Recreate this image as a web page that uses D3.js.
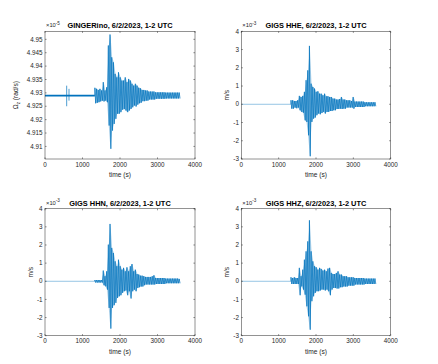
<!DOCTYPE html>
<html>
<head>
<meta charset="utf-8">
<script src="https://cdn.jsdelivr.net/npm/d3@7/dist/d3.min.js"></script>
<style>
	body { margin: 0; background: #fff; }
	svg { display: block; font-family: "Liberation Sans", Arial, sans-serif; }
</style>
</head>
<body>
<div id="chart"></div>
<script>
// bin centres (s) of the active part of every record
var activeTime = [1340, 1385, 1430, 1475, 1520, 1565, 1610, 1655, 1700, 1745,
	1790, 1835, 1880, 1925, 1970, 2015, 2060, 2105, 2150, 2195,
	2240, 2285, 2330, 2375, 2420, 2465, 2510, 2555, 2600, 2645,
	2690, 2735, 2780, 2825, 2870, 2915, 2960, 3005, 3050, 3095,
	3140, 3185, 3230, 3275, 3320, 3365, 3410, 3455, 3500, 3545, 3590];
var quietTime = [0, 1330];

var xTicks = [0, 1000, 2000, 3000, 4000];
var ginTicks = [4.91, 4.915, 4.92, 4.925, 4.93, 4.935, 4.94, 4.945, 4.95];
var msTicks = [-3, -2, -1, 0, 1, 2, 3, 4];

// GINGERino, x 1e-5 rad/s
var ginQuiet = [4.9293, 4.9286];
var ginSpikeTime = [578, 640];
var ginSpikeHi = [4.9327, 4.9315];
var ginSpikeLo = [4.9250, 4.9271];
var ginHi = [4.9319, 4.9315, 4.9311, 4.9315, 4.9309, 4.9340, 4.9309, 4.9321, 4.9477, 4.9518,
	4.9433, 4.9414, 4.9371, 4.9358, 4.9377, 4.9358, 4.9346, 4.9346, 4.9358, 4.9340,
	4.9352, 4.9346, 4.9334, 4.9327, 4.9334, 4.9327, 4.9319, 4.9317, 4.9311, 4.9311,
	4.9309, 4.9309, 4.9305, 4.9305, 4.9305, 4.9305, 4.9302, 4.9302, 4.9302, 4.9302,
	4.9302, 4.9302, 4.9301, 4.9301, 4.9301, 4.9301, 4.9301, 4.9301, 4.9301, 4.9301, 4.9301];
var ginLo = [4.9261, 4.9263, 4.9265, 4.9268, 4.9271, 4.9268, 4.9271, 4.9265, 4.9178, 4.9091,
	4.9159, 4.9184, 4.9203, 4.9222, 4.9222, 4.9228, 4.9237, 4.9240, 4.9234, 4.9228,
	4.9234, 4.9240, 4.9246, 4.9253, 4.9249, 4.9256, 4.9261, 4.9263, 4.9269, 4.9269,
	4.9271, 4.9271, 4.9275, 4.9275, 4.9275, 4.9275, 4.9278, 4.9278, 4.9278, 4.9278,
	4.9278, 4.9278, 4.9279, 4.9279, 4.9279, 4.9279, 4.9279, 4.9279, 4.9279, 4.9279, 4.9279];

// GIGS HHE, x 1e-3 m/s
var hheHi = [0.22, 0.22, 0.18, 0.18, 0.22, 0.46, 0.40, 0.46, 0.68, 1.32,
	1.86, 3.20, 1.13, 0.95, 0.86, 0.68, 0.71, 0.58, 0.58, 0.49,
	0.58, 0.44, 0.44, 0.40, 0.40, 0.31, 0.31, 0.26, 0.26, 0.29,
	0.40, 0.26, 0.26, 0.22, 0.22, 0.22, 0.18, 0.40, 0.15, 0.15,
	0.15, 0.15, 0.15, 0.15, 0.11, 0.11, 0.11, 0.11, 0.11, 0.11, 0.11];
var hheLo = [-0.24, -0.24, -0.18, -0.22, -0.18, -0.33, -0.42, -0.46, -0.88, -0.97,
	-1.70, -2.85, -0.97, -0.79, -0.73, -0.60, -0.51, -0.55, -0.48, -0.42,
	-0.51, -0.42, -0.42, -0.37, -0.37, -0.33, -0.33, -0.26, -0.26, -0.24,
	-0.26, -0.24, -0.24, -0.18, -0.18, -0.18, -0.18, -0.24, -0.15, -0.15,
	-0.15, -0.15, -0.15, -0.15, -0.11, -0.11, -0.11, -0.11, -0.11, -0.11, -0.11];

// GIGS HHN, x 1e-3 m/s
var hhnHi = [0.07, 0.07, 0.07, 0.07, 0.07, 0.59, 0.28, 0.55, 2.02, 3.16,
	1.84, 1.56, 1.10, 0.83, 1.19, 0.83, 0.64, 0.74, 0.55, 0.77,
	0.55, 0.83, 0.95, 0.55, 0.64, 0.40, 0.37, 0.31, 0.31, 0.28,
	0.24, 0.24, 0.24, 0.24, 0.28, 0.33, 0.18, 0.18, 0.18, 0.18,
	0.18, 0.18, 0.15, 0.15, 0.15, 0.15, 0.15, 0.15, 0.15, 0.15, 0.13];
var hhnLo = [-0.07, -0.07, -0.07, -0.07, -0.07, -0.22, -0.28, -0.46, -1.47, -2.61,
	-1.47, -1.32, -1.19, -0.92, -0.83, -0.77, -0.64, -0.55, -0.51, -0.77,
	-0.55, -0.95, -0.55, -0.46, -0.55, -0.37, -0.33, -0.29, -0.29, -0.22,
	-0.18, -0.18, -0.18, -0.18, -0.18, -0.18, -0.15, -0.15, -0.15, -0.15,
	-0.15, -0.15, -0.11, -0.11, -0.11, -0.11, -0.11, -0.11, -0.11, -0.11, -0.11];

// GIGS HHZ, x 1e-3 m/s
var hhzHi = [0.22, 0.18, 0.22, 0.18, 0.18, 0.74, 0.28, 0.64, 1.19, 1.65,
	2.20, 3.36, 1.65, 1.10, 0.83, 0.77, 0.64, 0.74, 0.68, 0.59,
	0.64, 0.55, 0.70, 0.74, 0.46, 0.40, 0.40, 0.46, 0.55, 0.37,
	0.37, 0.28, 0.28, 0.28, 0.22, 0.22, 0.22, 0.22, 0.18, 0.18,
	0.18, 0.18, 0.18, 0.18, 0.15, 0.15, 0.15, 0.15, 0.15, 0.15, 0.15];
var hhzLo = [-0.15, -0.15, -0.15, -0.15, -0.15, -0.77, -0.28, -0.46, -0.74, -1.38,
	-1.93, -2.67, -1.10, -0.83, -0.64, -0.55, -0.55, -0.51, -0.46, -0.46,
	-0.51, -0.46, -0.55, -0.77, -0.46, -0.37, -0.37, -0.40, -0.40, -0.33,
	-0.33, -0.29, -0.29, -0.29, -0.24, -0.24, -0.24, -0.24, -0.18, -0.18,
	-0.18, -0.18, -0.18, -0.18, -0.15, -0.15, -0.15, -0.15, -0.15, -0.15, -0.15];

var W = 438, H = 364;
var blue = "#0072BD", ink = "#262626";

var panels = [
	{ title: "GINGERino, 6/2/2023, 1-2 UTC", exp: "-5", ylab: "gin", hi: ginHi, lo: ginLo,
		quiet: ginQuiet, yDomain: [4.9053, 4.953], yTicks: ginTicks,
		box: { l: 45, r: 195, t: 31.3, b: 159 }, ylabX: 18 },
	{ title: "GIGS HHE, 6/2/2023, 1-2 UTC", exp: "-3", ylab: "m/s", hi: hheHi, lo: hheLo,
		quiet: [0, 0], yDomain: [-3, 4], yTicks: msTicks,
		box: { l: 241.3, r: 390.7, t: 31.3, b: 159 }, ylabX: 228.6 },
	{ title: "GIGS HHN, 6/2/2023, 1-2 UTC", exp: "-3", ylab: "m/s", hi: hhnHi, lo: hhnLo,
		quiet: [0, 0], yDomain: [-3, 4], yTicks: msTicks,
		box: { l: 45, r: 195, t: 208.7, b: 335.7 }, ylabX: 32.6 },
	{ title: "GIGS HHZ, 6/2/2023, 1-2 UTC", exp: "-3", ylab: "m/s", hi: hhzHi, lo: hhzLo,
		quiet: [0, 0], yDomain: [-3, 4], yTicks: msTicks,
		box: { l: 241.3, r: 390.7, t: 208.7, b: 335.7 }, ylabX: 228.6 }
];

var svg = d3.select("#chart").append("svg")
	.attr("width", W)
	.attr("height", H);

panels.forEach(function (p, n) {
	var b = p.box;
	var x = d3.scaleLinear().domain([0, 4000]).range([b.l, b.r]);
	var y = d3.scaleLinear().domain(p.yDomain).range([b.b, b.t]);
	var g = svg.append("g");

	// clip so nothing pokes out of the box
	g.append("clipPath").attr("id", "clip" + n)
		.append("rect")
		.attr("x", b.l).attr("y", b.t)
		.attr("width", b.r - b.l).attr("height", b.b - b.t);

	var plot = g.append("g").attr("clip-path", "url(#clip" + n + ")");

	//quiet part before the arrivals
	if (p.quiet[0] !== p.quiet[1]) {
		plot.append("path")
			.datum(quietTime)
			.attr("fill", blue)
			.attr("d", d3.area()
				.x(function (d) { return x(d); })
				.y0(function () { return y(p.quiet[1]); })
				.y1(function () { return y(p.quiet[0]); }));
	} else {
		plot.append("path")
			.datum(quietTime)
			.attr("fill", "none")
			.attr("stroke", blue)
			.attr("stroke-width", 0.6)
			.attr("stroke-opacity", 0.7)
			.attr("d", d3.line()
				.x(function (d) { return x(d); })
				.y(function () { return y(p.quiet[0]); }));
	}

	//spikes in the rotation record
	if (n === 0) {
		plot.selectAll("line.spike")
			.data(ginSpikeTime)
			.enter()
			.append("line")
			.attr("class", "spike")
			.attr("x1", function (d) { return x(d); })
			.attr("x2", function (d) { return x(d); })
			.attr("y1", function (d, i) { return y(ginSpikeHi[i]); })
			.attr("y2", function (d, i) { return y(ginSpikeLo[i]); })
			.attr("stroke", blue)
			.attr("stroke-width", 0.7);
	}

	//light envelope of each bin
	plot.append("path")
		.datum(activeTime)
		.attr("fill", blue)
		.attr("fill-opacity", 0.35)
		.attr("d", d3.area()
			.x(function (d) { return x(d); })
			.y0(function (d, i) { return y(p.lo[i]); })
			.y1(function (d, i) { return y(p.hi[i]); }));

	//trace: swing from the top to the bottom of each bin
	var pts = [[quietTime[1], (p.quiet[0] + p.quiet[1]) / 2]];
	activeTime.forEach(function (t, i) {
		pts.push([t - 11, p.hi[i]]);
		pts.push([t + 11, p.lo[i]]);
	});
	plot.append("path")
		.datum(pts)
		.attr("fill", "none")
		.attr("stroke", blue)
		.attr("stroke-width", 0.7)
		.attr("d", d3.line()
			.x(function (d) { return x(d[0]); })
			.y(function (d) { return y(d[1]); }));

	//box
	g.append("rect")
		.attr("x", b.l).attr("y", b.t)
		.attr("width", b.r - b.l).attr("height", b.b - b.t)
		.attr("fill", "none")
		.attr("stroke", ink)
		.attr("stroke-width", 0.5);

	//inward ticks on all sides
	var tl = 1.6;
	xTicks.forEach(function (v) {
		g.append("line").attr("x1", x(v)).attr("x2", x(v))
			.attr("y1", b.b).attr("y2", b.b - tl)
			.attr("stroke", ink).attr("stroke-width", 0.5);
		g.append("line").attr("x1", x(v)).attr("x2", x(v))
			.attr("y1", b.t).attr("y2", b.t + tl)
			.attr("stroke", ink).attr("stroke-width", 0.5);
	});
	p.yTicks.forEach(function (v) {
		g.append("line").attr("x1", b.l).attr("x2", b.l + tl)
			.attr("y1", y(v)).attr("y2", y(v))
			.attr("stroke", ink).attr("stroke-width", 0.5);
		g.append("line").attr("x1", b.r).attr("x2", b.r - tl)
			.attr("y1", y(v)).attr("y2", y(v))
			.attr("stroke", ink).attr("stroke-width", 0.5);
	});

	//tick labels
	g.selectAll("text.xt")
		.data(xTicks)
		.enter()
		.append("text")
		.attr("class", "xt")
		.text(function (d) { return d; })
		.attr("x", function (d) { return x(d); })
		.attr("y", b.b + 7.6)
		.attr("font-size", "6.3px")
		.attr("fill", ink)
		.attr("text-anchor", "middle");

	g.selectAll("text.yt")
		.data(p.yTicks)
		.enter()
		.append("text")
		.attr("class", "yt")
		.text(function (d) { return String(+d.toFixed(3)); })
		.attr("x", b.l - 2.4)
		.attr("y", function (d) { return y(d) + 2.2; })
		.attr("font-size", "6.3px")
		.attr("fill", ink)
		.attr("text-anchor", "end");

	//axis labels
	g.append("text")
		.text("time (s)")
		.attr("x", (b.l + b.r) / 2)
		.attr("y", b.b + 18.3)
		.attr("font-size", "6.6px")
		.attr("fill", ink)
		.attr("text-anchor", "middle");

	var yl = g.append("text")
		.attr("transform", "translate(" + p.ylabX + "," + ((b.t + b.b) / 2) + ") rotate(-90)")
		.attr("font-size", "6.6px")
		.attr("fill", ink)
		.attr("text-anchor", "middle");
	if (p.ylab === "gin") {
		yl.append("tspan").text("\u03A9");
		yl.append("tspan").text("z").attr("font-size", "4.6px").attr("dy", 1.6);
		yl.append("tspan").text(" (rad/s)").attr("dy", -1.6);
	} else {
		yl.text(p.ylab);
	}

	//exponent and title
	var ex = g.append("text")
		.attr("x", b.l + 1)
		.attr("y", b.t - 4)
		.attr("font-size", "5.8px")
		.attr("fill", ink);
	ex.append("tspan").text("\u00D710");
	ex.append("tspan").text(p.exp).attr("font-size", "4.6px").attr("dy", -2.6);

	g.append("text")
		.text(p.title)
		.attr("x", (b.l + b.r) / 2)
		.attr("y", b.t - 3.2)
		.attr("font-size", "7.4px")
		.attr("font-weight", "bold")
		.attr("fill", "#000")
		.attr("text-anchor", "middle");
});
</script>
</body>
</html>
